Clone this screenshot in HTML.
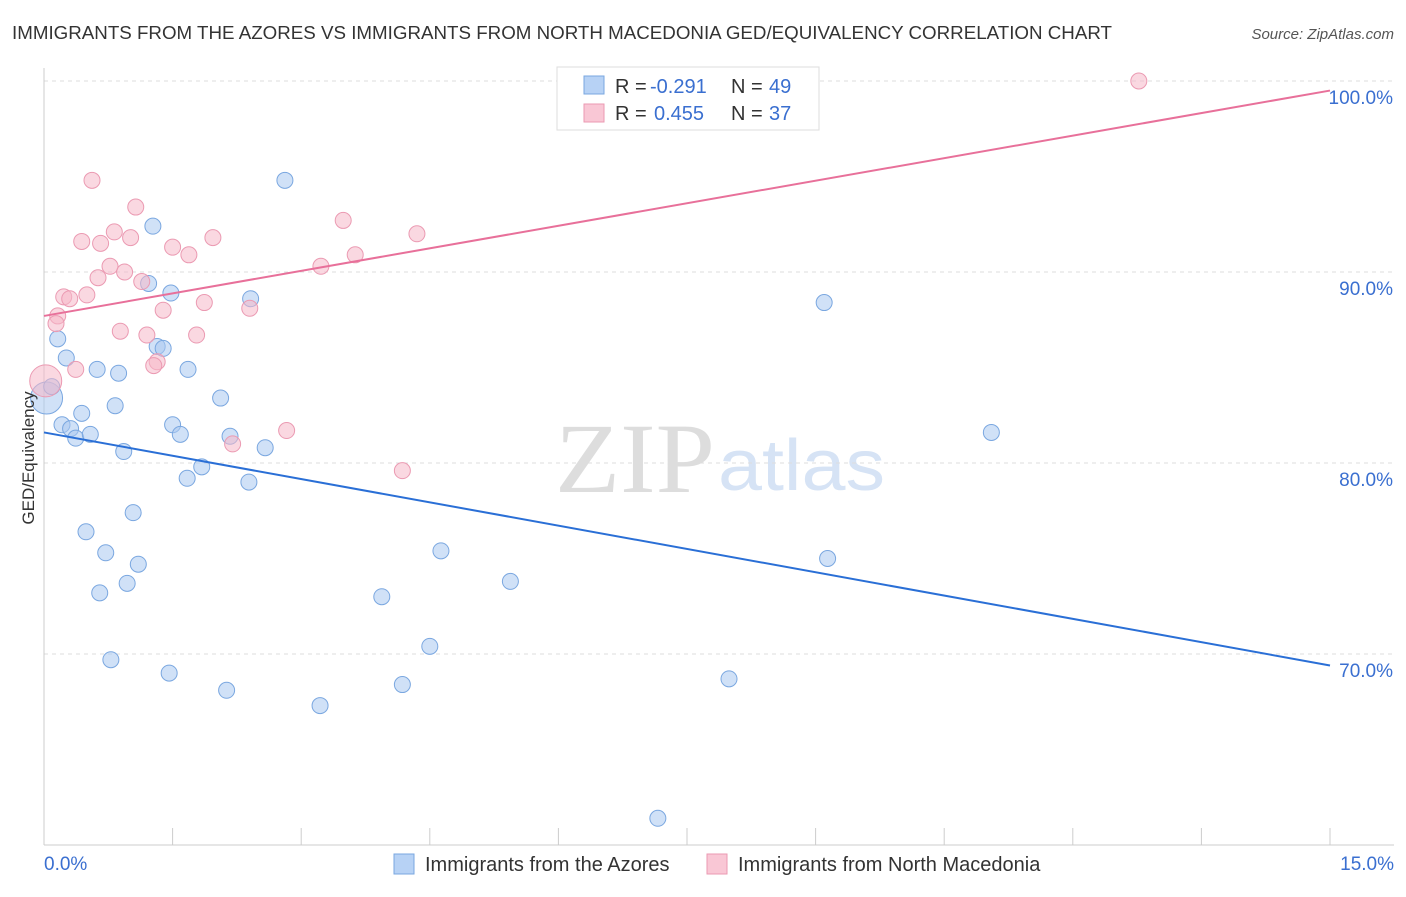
<!DOCTYPE html>
<html><head><meta charset="utf-8"><style>
body{margin:0;background:#fff;font-family:"Liberation Sans",sans-serif;}
svg text{font-family:"Liberation Sans",sans-serif;}
</style></head><body>
<svg id="c" width="1406" height="892">
<text x="12" y="39" font-size="18" fill="#333" textLength="1100" lengthAdjust="spacingAndGlyphs">IMMIGRANTS FROM THE AZORES VS IMMIGRANTS FROM NORTH MACEDONIA GED/EQUIVALENCY CORRELATION CHART</text>
<text x="1394" y="39" font-size="15" fill="#555" font-style="italic" text-anchor="end">Source: ZipAtlas.com</text>
<text x="555" y="492" font-size="100" fill="#ddd" textLength="160" lengthAdjust="spacingAndGlyphs" style="font-family:'Liberation Serif',serif">ZIP</text>
<text x="718" y="490" font-size="72" fill="#d6e3f5" textLength="167" lengthAdjust="spacingAndGlyphs">atlas</text>
<g id="grid"></g><g id="marks"></g>
<text transform="translate(34,458) rotate(-90)" font-size="17" fill="#333" text-anchor="middle">GED/Equivalency</text>
<text x="44" y="870" font-size="19" fill="#3a6fd0">0.0%</text>
<text x="1394" y="870" font-size="19" fill="#3a6fd0" text-anchor="end">15.0%</text>
<g>
<rect x="557" y="67" width="262" height="63" fill="#fff" stroke="#ddd"/>
<rect x="584" y="76" width="20" height="18" fill="#b7d2f5" stroke="#7aa7e0"/>
<rect x="584" y="104" width="20" height="18" fill="#f9c7d5" stroke="#eb9ab2"/>
<text x="615" y="93" font-size="20" fill="#333">R =</text>
<text x="650" y="93" font-size="20" fill="#3a6fd0">-0.291</text>
<text x="731" y="93" font-size="20" fill="#333">N =</text>
<text x="769" y="93" font-size="20" fill="#3a6fd0">49</text>
<text x="615" y="120" font-size="20" fill="#333">R =</text>
<text x="654" y="120" font-size="20" fill="#3a6fd0">0.455</text>
<text x="731" y="120" font-size="20" fill="#333">N =</text>
<text x="769" y="120" font-size="20" fill="#3a6fd0">37</text>
</g>
<g>
<rect x="394" y="854" width="20" height="20" fill="#b7d2f5" stroke="#7aa7e0"/>
<text x="425" y="871" font-size="20" fill="#333">Immigrants from the Azores</text>
<rect x="707" y="854" width="20" height="20" fill="#f9c7d5" stroke="#eb9ab2"/>
<text x="738" y="871" font-size="20" fill="#333">Immigrants from North Macedonia</text>
</g>
</svg>
<script>
const yTicks=[70,80,90,100];
const yTickLabels=["70.0%","80.0%","90.0%","100.0%"];
const xTicks=[0,1.5,3,4.5,6,7.5,9,10.5,12,13.5,15];
const blueX=[0.03,0.09,0.16,0.26,0.62,0.87,0.21,0.31,0.37,0.44,0.54,0.83,0.93,1.22,1.27,1.48,1.32,1.39,1.68,1.50,1.59,2.06,2.17,2.41,2.58,2.81,1.84,1.67,2.39,1.04,0.49,0.72,1.10,0.65,0.97,0.78,1.46,2.13,3.22,3.94,4.18,4.50,4.63,5.44,7.99,9.10,9.14,11.05,7.16];
const blueY=[83.4,84.0,86.5,85.5,84.9,84.7,82.0,81.8,81.3,82.6,81.5,83.0,80.6,89.4,92.4,88.9,86.1,86.0,84.9,82.0,81.5,83.4,81.4,88.6,80.8,94.8,79.8,79.2,79.0,77.4,76.4,75.3,74.7,73.2,73.7,69.7,69.0,68.1,67.3,73.0,68.4,70.4,75.4,73.8,68.7,88.4,75.0,81.6,61.4];
const pinkX=[0.56,1.07,0.44,0.66,0.82,1.01,1.50,1.69,1.97,3.49,4.35,3.63,3.23,0.77,0.63,0.94,1.14,0.23,0.30,0.50,0.16,0.14,1.87,1.39,2.40,0.89,1.20,1.78,1.32,1.28,0.37,0.02,2.83,2.20,4.18,12.77];
const pinkY=[94.8,93.4,91.6,91.5,92.1,91.8,91.3,90.9,91.8,92.7,92.0,90.9,90.3,90.3,89.7,90.0,89.5,88.7,88.6,88.8,87.7,87.3,88.4,88.0,88.1,86.9,86.7,86.7,85.3,85.1,84.9,84.3,81.7,81.0,79.6,100.0];
const blueTrend=[81.6,69.4];
const pinkTrend=[87.7,99.5];
const NS="http://www.w3.org/2000/svg";
const sx=v=>44+v/15*1286, sy=v=>845-(v-60)/40*764;
function mk(t,a,p){const e=document.createElementNS(NS,t);for(const k in a)e.setAttribute(k,a[k]);p.appendChild(e);return e;}
const g=document.getElementById('grid'),m=document.getElementById('marks');
yTicks.forEach((v,i)=>{const l=mk('line',{x1:44,x2:1394,y1:sy(v),y2:sy(v),stroke:'#ddd','stroke-dasharray':'4,4'},g);


const t=mk('text',{x:1393,y:sy(v)+23,'font-size':19,fill:'#3a6fd0','text-anchor':'end'},g);t.textContent=yTickLabels[i];

});
const ax=mk('line',{x1:44,x2:1394,y1:845,y2:845,stroke:'#ccc'},g);


const ay=mk('line',{x1:44,x2:44,y1:68,y2:845,stroke:'#ccc'},g);


xTicks.forEach(v=>{const t=mk('line',{x1:sx(v),x2:sx(v),y1:828,y2:845,stroke:'#ccc'},g);

});
function pts(X,Y,f,s,n){X.forEach((x,i)=>{const big=x<0.05;const c=mk('circle',{cx:sx(x),cy:sy(Y[i]),r:big?16:8,fill:f,'fill-opacity':0.55,stroke:s,'stroke-width':1},m);

});}
pts(blueX,blueY,'#a9c8f0','#7aa7e0','azores-point');
pts(pinkX,pinkY,'#f5b8c9','#eb9ab2','north-macedonia-point');
const bl=mk('line',{x1:sx(0),y1:sy(blueTrend[0]),x2:sx(15),y2:sy(blueTrend[1]),stroke:'#2a6fd6','stroke-width':2},m);


const pl=mk('line',{x1:sx(0),y1:sy(pinkTrend[0]),x2:sx(15),y2:sy(pinkTrend[1]),stroke:'#e8709a','stroke-width':2},m);


</script>
</body></html>
